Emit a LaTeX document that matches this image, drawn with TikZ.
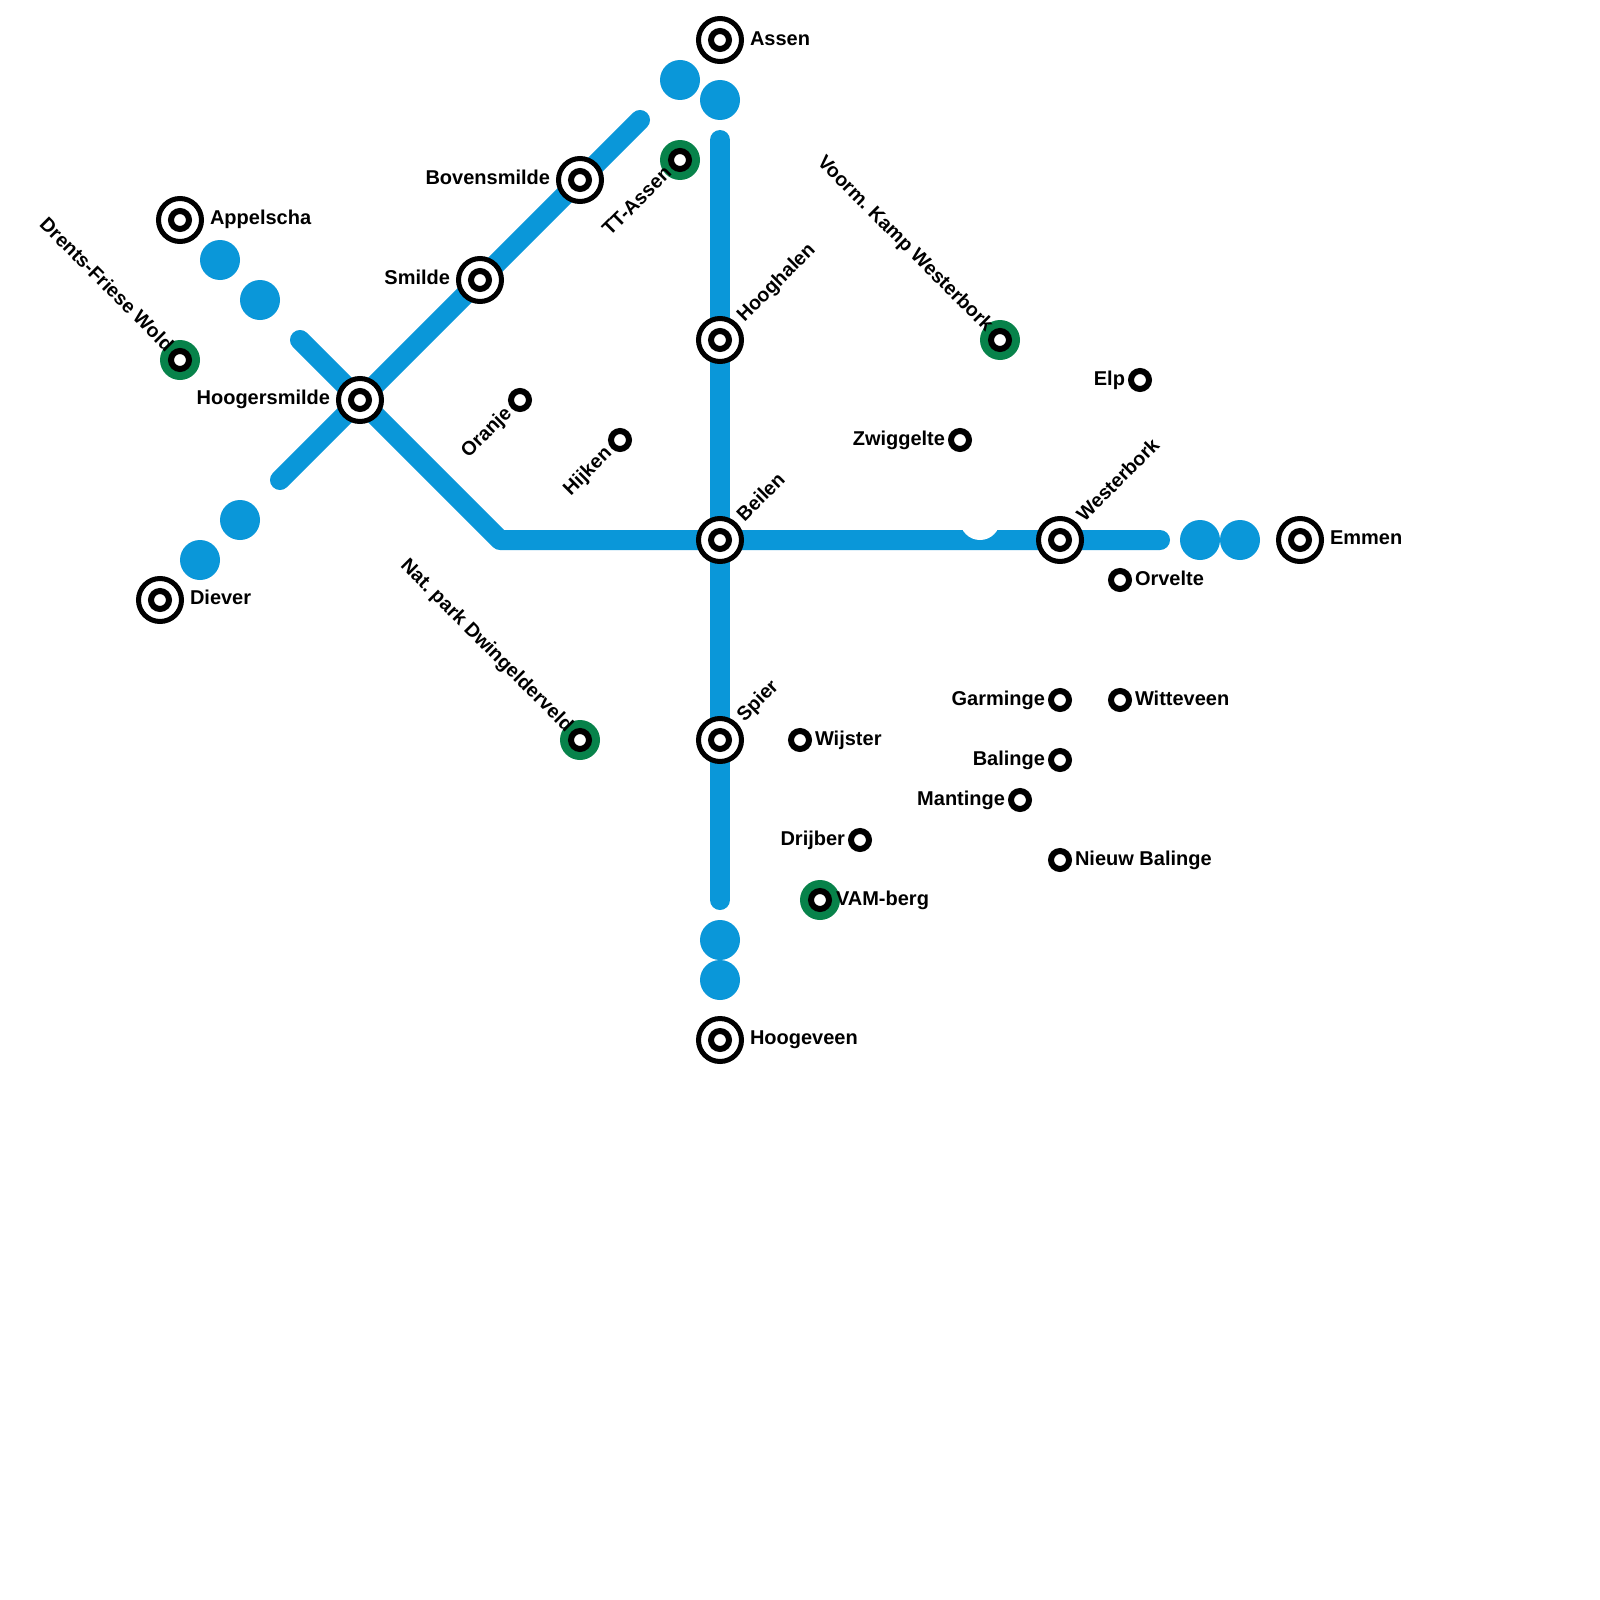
\documentclass[tikz,border=0pt]{standalone}
\usepackage{fontspec}
\setmainfont{Liberation Sans}
\frenchspacing
\definecolor{linecol}{HTML}{0A97D9}
\definecolor{greencol}{HTML}{07824A}
\tikzset{
  x=0.5pt,y=-0.5pt,
  route/.style={draw=linecol,line width=10pt,line cap=round,line join=round},
  blob/.style={circle,fill=linecol,inner sep=0pt,outer sep=0pt,minimum size=20pt},
  gap/.style={circle,fill=white,inner sep=0pt,outer sep=0pt,minimum size=20pt},
  greenpad/.style={circle,fill=greencol,inner sep=0pt,outer sep=0pt,minimum size=20pt},
  outerring/.style={circle,draw=black,fill=white,line width=2.5pt,inner sep=0pt,outer sep=0pt,minimum size=21.5pt},
  innerring/.style={circle,draw=black,fill=white,line width=3pt,inner sep=0pt,outer sep=0pt,minimum size=9pt},
  lab/.style={font=\bfseries\fontsize{10pt}{11pt}\selectfont,inner sep=0pt,outer sep=0pt,text=black},
  rlab/.style={font=\bfseries\fontsize{9.8pt}{11pt}\selectfont,inner sep=0pt,outer sep=0pt,text=black},
  labr/.style={lab,anchor=base west},
  labl/.style={lab,anchor=base east},
  labup/.style={rlab,anchor=base west,rotate=45},
  labdn/.style={rlab,anchor=base east,rotate=45},
  labdiag/.style={rlab,anchor=base east,rotate=-45},
}
\newcommand{\bigstn}[2]{\node[outerring] (#1) at (#2) {};\node[innerring] (#1i) at (#2) {};}
\newcommand{\smallstn}[2]{\node[innerring] (#1) at (#2) {};}
\newcommand{\greenstn}[2]{\node[greenpad] (#1g) at (#2) {};\node[innerring] (#1) at (#2) {};}
\begin{document}
\begin{tikzpicture}
\useasboundingbox (0,0) rectangle (1600,1600);
\fill[white] (0,0) rectangle (1600,1600);
% line ends
\coordinate (vtop) at (720,140);
\coordinate (vbot) at (720,900);
\coordinate (dtop) at (640,120);
\coordinate (dbot) at (280,480);
\coordinate (hstart) at (300,340);
\coordinate (hbend) at (500,540);
\coordinate (hend) at (1160,540);
\draw[route] (vtop) -- (vbot);
\draw[route] (dbot) -- (dtop);
\draw[route] (hstart) -- (hbend) -- (hend);
\node[gap] (gapw) at (980,520) {};
% terminus dots
\node[blob] (d1) at (680,80) {};
\node[blob] (d2) at (720,100) {};
\node[blob] (d3) at (720,940) {};
\node[blob] (d4) at (720,980) {};
\node[blob] (d5) at (220,260) {};
\node[blob] (d6) at (260,300) {};
\node[blob] (d7) at (240,520) {};
\node[blob] (d8) at (200,560) {};
\node[blob] (d9) at (1200,540) {};
\node[blob] (d10) at (1240,540) {};
% big stations
\bigstn{assen}{720,40}
\bigstn{hooghalen}{720,340}
\bigstn{beilen}{720,540}
\bigstn{spier}{720,740}
\bigstn{hoogeveen}{720,1040}
\bigstn{appelscha}{180,220}
\bigstn{diever}{160,600}
\bigstn{hoogersmilde}{360,400}
\bigstn{smilde}{480,280}
\bigstn{bovensmilde}{580,180}
\bigstn{westerbork}{1060,540}
\bigstn{emmen}{1300,540}
% green stations
\greenstn{ttassen}{680,160}
\greenstn{dfwold}{180,360}
\greenstn{natpark}{580,740}
\greenstn{kamp}{1000,340}
\greenstn{vamberg}{820,900}
% small stations
\smallstn{oranje}{520,400}
\smallstn{hijken}{620,440}
\smallstn{elp}{1140,380}
\smallstn{zwiggelte}{960,440}
\smallstn{orvelte}{1120,580}
\smallstn{garminge}{1060,700}
\smallstn{witteveen}{1120,700}
\smallstn{balinge}{1060,760}
\smallstn{mantinge}{1020,800}
\smallstn{drijber}{860,840}
\smallstn{nieuwbalinge}{1060,860}
\smallstn{wijster}{800,740}
% labels
\node[labr] (tassen) at (750,45.5) {Assen};
\node[labr] (thoogeveen) at (750,1044.5) {Hoogeveen};
\node[labr] (tappelscha) at (210,224.5) {Appelscha};
\node[labr] (tdiever) at (190,604.5) {Diever};
\node[labr] (temmen) at (1330,544.5) {Emmen};
\node[labl] (thoogersmilde) at (330,404.5) {Hoogersmilde};
\node[labl] (tsmilde) at (450,284.5) {Smilde};
\node[labl] (tbovensmilde) at (550,184.5) {Bovensmilde};
\node[labup] (thooghalen) at (744.5,322.5) {Hooghalen};
\node[labup] (tbeilen) at (744.5,522.5) {Beilen};
\node[labup] (tspier) at (744.5,722.5) {Spier};
\node[labup] (twesterbork) at (1084.5,522.5) {Westerbork};
\node[labdn] (tttassen) at (672.5,174.5) {TT-Assen};
\node[labdn] (toranje) at (512.5,414.5) {Oranje};
\node[labdn] (thijken) at (612.5,454.5) {Hijken};
\node[labdiag] (tdfwold) at (165.5,352.5) {Drents-Friese Wold};
\node[labdiag] (tnatpark) at (565.5,732.5) {Nat. park Dwingelderveld};
\node[labdiag] (tkamp) at (985.5,332.5) {Voorm. Kamp Westerbork};
\node[labl] (telp) at (1125,385) {Elp};
\node[labl] (tzwiggelte) at (945,445) {Zwiggelte};
\node[labl] (tgarminge) at (1045,705) {Garminge};
\node[labl] (tbalinge) at (1045,765) {Balinge};
\node[labl] (tmantinge) at (1005,805) {Mantinge};
\node[labl] (tdrijber) at (845,845) {Drijber};
\node[labr] (torvelte) at (1135,585) {Orvelte};
\node[labr] (twitteveen) at (1135,705) {Witteveen};
\node[labr] (tnieuwbalinge) at (1075,865) {Nieuw Balinge};
\node[labr] (twijster) at (815,745) {Wijster};
\node[labr] (tvamberg) at (836,905) {VAM-berg};
\end{tikzpicture}
\end{document}
